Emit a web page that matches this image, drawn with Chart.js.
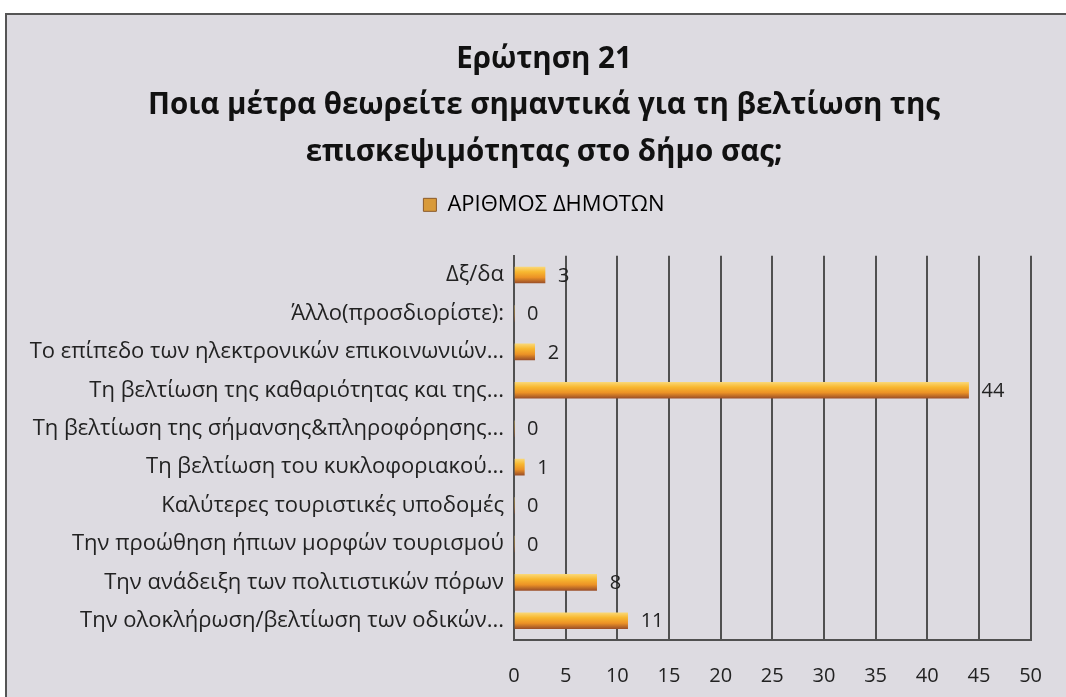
<!DOCTYPE html>
<html>
<head>
<meta charset="utf-8">
<script src="https://cdn.jsdelivr.net/npm/chart.js@4.4.1/dist/chart.umd.min.js"></script>
<style>
html,body{margin:0;padding:0;background:#ffffff;}
#frame{position:absolute;left:5px;top:13px;width:1061px;height:684px;background:#dddbe1;border-top:2px solid #555;border-left:2px solid #555;box-sizing:border-box;}
#wrap{position:absolute;left:0;top:0;width:1066px;height:697px;}
</style>
</head>
<body>
<div id="frame"></div>
<div id="wrap"><canvas id="c" width="1066" height="697"></canvas></div>
<script>
const categories = [
  "Δξ/δα",
  "Άλλο(προσδιορίστε):",
  "Το επίπεδο των ηλεκτρονικών επικοινωνιών...",
  "Τη βελτίωση της καθαριότητας και της...",
  "Τη βελτίωση της σήμανσης&πληροφόρησης...",
  "Τη βελτίωση του κυκλοφοριακού...",
  "Καλύτερες τουριστικές υποδομές",
  "Την προώθηση ήπιων μορφών τουρισμού",
  "Την ανάδειξη των πολιτιστικών πόρων",
  "Την ολοκλήρωση/βελτίωση των οδικών..."
];
const values = [3, 0, 2, 44, 0, 1, 0, 0, 8, 11];
const seriesName = "ΑΡΙΘΜΟΣ ΔΗΜΟΤΩΝ";
const titleLines = [
  "Ερώτηση 21",
  "Ποια μέτρα θεωρείτε σημαντικά για τη βελτίωση της",
  "επισκεψιμότητας στο δήμο σας;"
];
const xMin = 0, xMax = 50, xStep = 5;

const FONT = "'Open Sans', 'DejaVu Sans', sans-serif";

function barGradient(c) {
  const chart = c.chart;
  const ys = chart.scales && chart.scales.y;
  if (!ys || c.dataIndex === undefined) return '#eea035';
  const yc = ys.getPixelForValue(c.dataIndex);
  if (!isFinite(yc)) return '#eea035';
  const g = chart.ctx.createLinearGradient(0, yc - 8, 0, yc + 8);
  g.addColorStop(0, '#fad774');
  g.addColorStop(0.3, '#f8b830');
  g.addColorStop(0.65, '#ec9226');
  g.addColorStop(1, '#9c5028');
  return g;
}

// let the long category labels run past the padded edge (no label clipping)
const noLabelClip = {
  id: 'noLabelClip',
  afterLayout(chart) {
    const y = chart.scales.y;
    if (y) y._computeLabelArea = function () { return undefined; };
  }
};

const valueLabels = {
  id: 'valueLabels',
  afterDatasetsDraw(chart) {
    const ctx = chart.ctx;
    const meta = chart.getDatasetMeta(0);
    ctx.save();
    ctx.font = "20px " + FONT;
    ctx.fillStyle = '#222';
    ctx.textAlign = 'left';
    ctx.textBaseline = 'middle';
    meta.data.forEach((el, i) => {
      ctx.fillText(String(values[i]), el.x + 13, el.y + 1);
    });
    ctx.restore();
  }
};

new Chart(document.getElementById('c'), {
  type: 'bar',
  data: {
    labels: categories,
    datasets: [{
      label: seriesName,
      data: values,
      backgroundColor: barGradient,
      borderWidth: 0,
      barThickness: 16,
      xAxisID: 'x'
    }]
  },
  options: {
    indexAxis: 'y',
    responsive: false,
    animation: false,
    devicePixelRatio: 1,
    layout: { padding: { left: 53, right: 31, top: 0, bottom: 0 } },
    plugins: {
      title: {
        display: true,
        text: titleLines,
        color: '#111',
        font: { family: FONT, size: 29.5, weight: 'bold', lineHeight: 1.58 },
        padding: { top: 36, bottom: 9 }
      },
      legend: {
        display: true,
        position: 'top',
        labels: {
          color: '#222',
          font: { family: FONT, size: 22 },
          boxWidth: 13,
          boxHeight: 13,
          padding: 9,
          generateLabels: () => [{
            text: seriesName,
            fillStyle: '#d89a3a',
            strokeStyle: '#8a5a2a',
            lineWidth: 1,
            hidden: false,
            datasetIndex: 0
          }]
        }
      },
      tooltip: { enabled: false }
    },
    scales: {
      x: {
        min: xMin, max: xMax,
        ticks: {
          stepSize: xStep,
          color: '#222',
          font: { family: FONT, size: 20 },
          padding: 24
        },
        grid: { color: '#505050', lineWidth: 2, drawTicks: false },
        border: { display: true, color: '#505050', width: 2 },
        afterFit(s) { s.height = 57; }
      },
      xTop: {
        type: 'linear',
        position: 'top',
        min: xMin, max: xMax,
        display: true,
        ticks: { display: false },
        grid: { display: false, drawTicks: false },
        border: { display: false },
        afterFit(s) { s.height = 30; }
      },
      y: {
        ticks: {
          color: '#222',
          font: { family: FONT, size: 22 },
          padding: 10,
          autoSkip: false
        },
        grid: { display: false, drawTicks: false },
        border: { display: true, color: '#505050', width: 2 },
        afterFit(s) { s.width = 461; }
      }
    }
  },
  plugins: [noLabelClip, valueLabels]
});
</script>
</body>
</html>
